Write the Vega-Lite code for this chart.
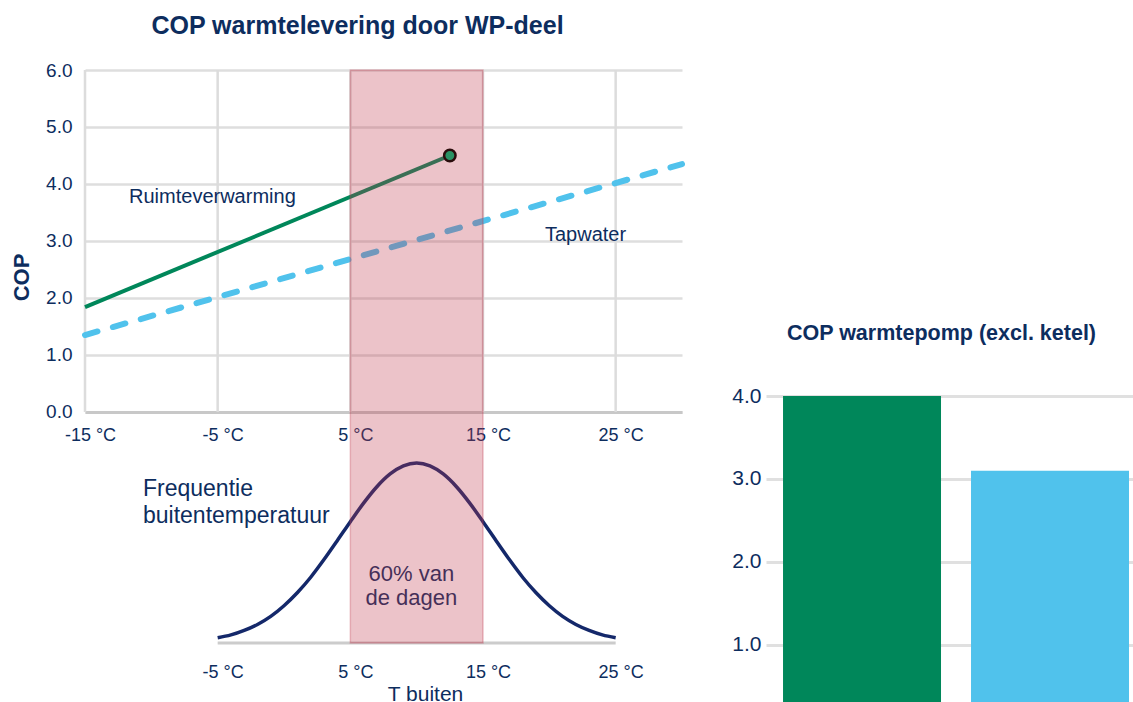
{
  "$schema": "https://vega.github.io/schema/vega-lite/v6.json",
  "background": "white",
  "padding": {"left": 10, "top": 14, "right": 0, "bottom": 0},
  "config": {
    "font": "Liberation Sans",
    "view": {"stroke": null},
    "axis": {"labelFont": "Liberation Sans", "titleFont": "Liberation Sans"}
  },
  "spacing": 37,
  "hconcat": [
    {
      "title": {
        "text": "COP warmtelevering door WP-deel",
        "font": "Liberation Sans",
        "fontSize": 25,
        "fontWeight": "bold",
        "color": "#0d2d5e",
        "anchor": "middle",
        "frame": "group",
        "dx": -26,
        "offset": 22
      },
      "width": 597,
      "height": 573,
      "resolve": {
        "scale": {"x": "independent", "y": "independent"},
        "axis": {"x": "independent", "y": "independent"}
      },
      "layer": [
        {
          "layer": [
            {
              "data": {"values": [{"t": -15}, {"t": -5}, {"t": 5}, {"t": 15}, {"t": 25}]},
              "mark": {"type": "rule", "color": "#dcdcdc", "strokeWidth": 2.5},
              "encoding": {
                "x": {
                  "field": "t", "type": "quantitative",
                  "scale": {"domain": [-15, 30], "nice": false, "zero": false},
                  "axis": {
                    "orient": "bottom", "offset": -231,
                    "values": [-15, -5, 5, 15, 25],
                    "labelExpr": "datum.value + ' °C'",
                    "labelFlush": false, "labelOffset": 5, "labelPadding": 14,
                    "labelFontSize": 18, "labelColor": "#0d2d5e",
                    "ticks": false, "grid": false,
                    "domainColor": "#c8c8c8", "domainWidth": 3,
                    "title": null
                  }
                },
                "y": {
                  "datum": 0, "type": "quantitative",
                  "scale": {"domain": [-4.053, 6], "nice": false, "zero": false},
                  "axis": {
                    "orient": "left",
                    "values": [0, 1, 2, 3, 4, 5, 6],
                    "format": ".1f",
                    "grid": true, "gridColor": "#dedede", "gridWidth": 2.5,
                    "domain": false, "ticks": false,
                    "labelFontSize": 19, "labelColor": "#0d2d5e", "labelPadding": 13,
                    "title": "COP", "titleFontSize": 22, "titleFontWeight": "bold",
                    "titleColor": "#0d2d5e", "titlePadding": 12, "titleY": 207
                  }
                },
                "y2": {"datum": 6}
              }
            },
            {
              "data": {"values": [{"t": -15, "cop": 1.35}, {"t": 30, "cop": 4.35}]},
              "mark": {"type": "line", "color": "#50c2ec", "strokeWidth": 6, "strokeDash": [13, 16], "strokeCap": "round"},
              "encoding": {
                "x": {"field": "t", "type": "quantitative", "scale": {"domain": [-15, 30], "nice": false, "zero": false}},
                "y": {"field": "cop", "type": "quantitative", "scale": {"domain": [-4.053, 6], "nice": false, "zero": false}}
              }
            },
            {
              "data": {"values": [{"t": -15, "cop": 1.84}, {"t": 12.5, "cop": 4.5}]},
              "mark": {"type": "line", "color": "#00875a", "strokeWidth": 4},
              "encoding": {
                "x": {"field": "t", "type": "quantitative", "scale": {"domain": [-15, 30], "nice": false, "zero": false}},
                "y": {"field": "cop", "type": "quantitative", "scale": {"domain": [-4.053, 6], "nice": false, "zero": false}}
              }
            },
            {
              "data": {"values": [
                {"label": "Ruimteverwarming", "t": -11.68, "cop": 3.667},
                {"label": "Tapwater", "t": 19.67, "cop": 3.0}
              ]},
              "mark": {"type": "text", "align": "left", "baseline": "alphabetic", "fontSize": 20, "color": "#0d2d5e"},
              "encoding": {
                "x": {"field": "t", "type": "quantitative", "scale": {"domain": [-15, 30], "nice": false, "zero": false}},
                "y": {"field": "cop", "type": "quantitative", "scale": {"domain": [-4.053, 6], "nice": false, "zero": false}},
                "text": {"field": "label", "type": "nominal"}
              }
            }
          ]
        },
        {
          "layer": [
            {
              "data": {"values": [
                {"t": -5, "f": 0.029}, {"t": -4, "f": 0.045}, {"t": -3, "f": 0.070}, {"t": -2, "f": 0.103},
                {"t": -1, "f": 0.148}, {"t": 0, "f": 0.207}, {"t": 1, "f": 0.279}, {"t": 2, "f": 0.364},
                {"t": 3, "f": 0.462}, {"t": 4, "f": 0.567}, {"t": 5, "f": 0.674}, {"t": 6, "f": 0.777},
                {"t": 7, "f": 0.868}, {"t": 8, "f": 0.939}, {"t": 9, "f": 0.984}, {"t": 10, "f": 1.0},
                {"t": 11, "f": 0.984}, {"t": 12, "f": 0.939}, {"t": 13, "f": 0.868}, {"t": 14, "f": 0.777},
                {"t": 15, "f": 0.674}, {"t": 16, "f": 0.567}, {"t": 17, "f": 0.462}, {"t": 18, "f": 0.364},
                {"t": 19, "f": 0.279}, {"t": 20, "f": 0.207}, {"t": 21, "f": 0.148}, {"t": 22, "f": 0.103},
                {"t": 23, "f": 0.070}, {"t": 24, "f": 0.045}, {"t": 25, "f": 0.029}
              ]},
              "mark": {"type": "line", "color": "#14286a", "strokeWidth": 3.5, "interpolate": "monotone"},
              "encoding": {
                "x": {
                  "field": "t", "type": "quantitative",
                  "scale": {"domain": [-15, 30], "nice": false, "zero": false},
                  "axis": {
                    "orient": "bottom",
                    "values": [-5, 5, 15, 25],
                    "labelExpr": "datum.value + ' °C'",
                    "labelFlush": false, "labelOffset": 5, "labelPadding": 20,
                    "labelFontSize": 18, "labelColor": "#0d2d5e",
                    "ticks": false, "grid": false, "domain": false,
                    "title": "T buiten", "titleFontSize": 21, "titleFontWeight": "normal",
                    "titleColor": "#0d2d5e", "titlePadding": 2, "titleX": 340
                  }
                },
                "y": {"field": "f", "type": "quantitative", "scale": {"domain": [0, 3.183], "nice": false, "zero": false}, "axis": null}
              }
            },
            {
              "data": {"values": [{"van": -5, "tot": 25}]},
              "mark": {"type": "rule", "color": "#cccccc", "strokeWidth": 3},
              "encoding": {
                "x": {"field": "van", "type": "quantitative", "scale": {"domain": [-15, 30], "nice": false, "zero": false}},
                "x2": {"field": "tot"},
                "y": {"datum": 0, "type": "quantitative", "scale": {"domain": [0, 3.183], "nice": false, "zero": false}}
              }
            },
            {
              "data": {"values": [{"label": "Frequentie\nbuitentemperatuur", "t": -10.63, "f": 0.817}]},
              "mark": {"type": "text", "align": "left", "baseline": "alphabetic", "fontSize": 23, "lineHeight": 27, "lineBreak": "\n", "color": "#0d2d5e"},
              "encoding": {
                "x": {"field": "t", "type": "quantitative", "scale": {"domain": [-15, 30], "nice": false, "zero": false}},
                "y": {"field": "f", "type": "quantitative", "scale": {"domain": [0, 3.183], "nice": false, "zero": false}},
                "text": {"field": "label", "type": "nominal"}
              }
            },
            {
              "data": {"values": [{"label": "60% van\nde dagen", "t": 9.6, "f": 0.344}]},
              "mark": {"type": "text", "align": "center", "baseline": "alphabetic", "fontSize": 22, "lineHeight": 24, "lineBreak": "\n", "color": "#0d2d5e"},
              "encoding": {
                "x": {"field": "t", "type": "quantitative", "scale": {"domain": [-15, 30], "nice": false, "zero": false}},
                "y": {"field": "f", "type": "quantitative", "scale": {"domain": [0, 3.183], "nice": false, "zero": false}},
                "text": {"field": "label", "type": "nominal"}
              }
            }
          ]
        },
        {
          "data": {"values": [{"van": 5, "tot": 15}]},
          "mark": {"type": "rect", "fill": "#c0394b", "fillOpacity": 0.3, "stroke": "#c0394b", "strokeOpacity": 0.3, "strokeWidth": 1.5},
          "encoding": {
            "x": {"field": "van", "type": "quantitative", "scale": {"domain": [-15, 30], "nice": false, "zero": false}, "axis": null},
            "x2": {"field": "tot"}
          }
        },
        {
          "data": {"values": [{"t": 12.5, "cop": 4.5}]},
          "mark": {"type": "point", "filled": true, "fill": "#2a9264", "stroke": "#2a0c0c", "strokeWidth": 2.5, "size": 130, "opacity": 1},
          "encoding": {
            "x": {"field": "t", "type": "quantitative", "scale": {"domain": [-15, 30], "nice": false, "zero": false}, "axis": null},
            "y": {"field": "cop", "type": "quantitative", "scale": {"domain": [-4.053, 6], "nice": false, "zero": false}, "axis": null}
          }
        }
      ]
    },
    {
      "title": {
        "text": "COP warmtepomp (excl. ketel)",
        "font": "Liberation Sans",
        "fontSize": 21.5,
        "fontWeight": "bold",
        "color": "#0d2d5e",
        "anchor": "middle",
        "frame": "group",
        "dx": -8,
        "offset": -274
      },
      "width": 367,
      "height": 632,
      "data": {"values": [
        {"soort": "Ruimteverwarming", "cop": 4.0},
        {"soort": "Tapwater", "cop": 3.1}
      ]},
      "mark": {"type": "bar", "clip": true},
      "encoding": {
        "x": {
          "field": "soort", "type": "nominal", "sort": null,
          "scale": {"paddingInner": 0.1596, "paddingOuter": 0.0559, "align": 0.81},
          "axis": null
        },
        "y": {
          "field": "cop", "type": "quantitative",
          "scale": {"domain": [0.313, 7.928], "nice": false, "zero": false},
          "axis": {
            "values": [1, 2, 3, 4], "format": ".1f",
            "grid": true, "gridColor": "#e0e0e0", "gridWidth": 3,
            "domain": false, "ticks": false,
            "labelFontSize": 21, "labelColor": "#0d2d5e", "labelPadding": 5,
            "title": null
          }
        },
        "color": {
          "field": "soort", "type": "nominal",
          "scale": {"range": ["#00875a", "#50c2ec"]},
          "legend": null
        }
      }
    }
  ]
}
